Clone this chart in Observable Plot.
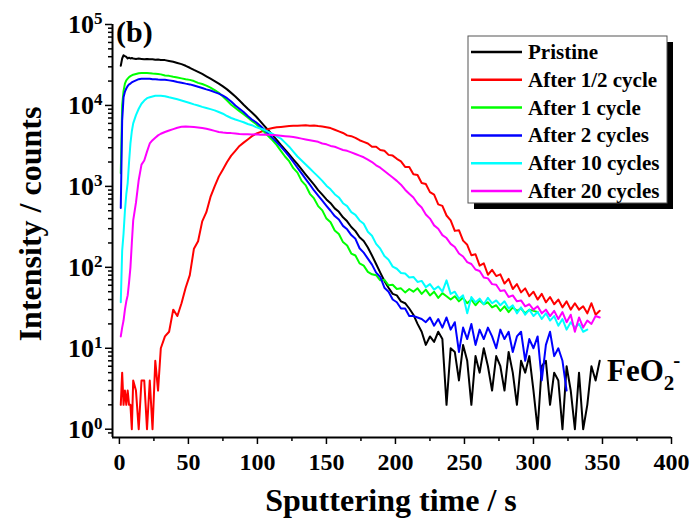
<!DOCTYPE html>
<html><head><meta charset="utf-8">
<script src="https://cdn.jsdelivr.net/npm/d3@7"></script>
<script src="https://cdn.jsdelivr.net/npm/@observablehq/plot@0.6"></script>
<style>
body{margin:0;background:#fff;}
#chart{position:relative;width:694px;height:529px;}
</style></head><body><div id="chart"></div>
<script>
const time = [1,2,3,4,5,6,7,8,9,10,12,14,16,18,20,22,24,26,28,30,33,36,39,42,45,48,51,54,57,60,63,66,69,72,75,78,81,84,87,90,93,96,99,102,105,108,111,114,117,120,123,126,129,132,135,138,141,144,147,150,153,156,159,162,165,168,171,174,177,180,183,186,189,192,195,198,201,204,207,210,213,216,219,222,225,228,231,234,237,240,243,246,249,252,255,258,261,264,267,270,273,276,279,282,285,288,291,294,297,300,303,306,309,312,315,318,321,324,327,330,333,336,339,342,345,348];

const pristine = [30900,38000,41700,40700,39800,38000,38900,38000,38500,38000,
37600,38000,37600,37200,37600,37200,37300,36700,37000,36500,
36300,35500,34700,33500,32400,30900,29200,27500,26000,24500,
22900,21400,20000,18600,17200,15800,14300,12900,11500,10200,
9100,8200,7300,6400,5600,4900,4300,3750,3250,2850,
2480,2150,1880,1620,1400,1210,1050,900,790,690,
620,535,485,415,370,315,280,235,212,176,
140,110,86,68,56,47,45,38,36,31,
26,20,16,11,14,12,16,13,2,10,
9,4,11,7,2,8,5,10,6,3,
8,6,3,9,5,2,7,5,8,3,
1,6,7,2,5,4,1,6,3,1,
5,1,2,6,4,7];

const halfCycle = [2,5,2,3,2,3,2,2,1,4,
3,1,4,4,1,4,1,7,3,10,
14,16,30,25,36,56,80,170,210,370,
480,740,1000,1320,1620,2000,2400,2750,3160,3470,
3800,4170,4470,4680,4900,5130,5250,5370,5430,5500,
5560,5620,5600,5650,5690,5620,5640,5560,5500,5370,
5250,5010,4790,4570,4270,4170,3980,3720,3550,3390,
3090,3090,2820,2750,2450,2400,2190,2040,1740,1740,
1410,1380,1100,1070,850,790,600,575,437,380,
282,288,214,190,141,145,105,112,81,93,
78,82,63,72,54,62,49,55,44,50,
40,47,37,43,35,40,32,38,30,36,
30,33,27,36,26,29];

const oneCycle = [1450,10000,15000,18600,20400,21400,22400,23000,23500,24000,
24500,25000,25100,25100,25100,25000,24800,24700,24500,24200,
23400,23200,22600,22100,21600,21100,20700,20000,19000,18400,
17600,16600,15500,14300,12900,11500,10200,9300,8500,7800,
7100,6450,5900,5250,4700,4170,3700,3240,2750,2340,
2050,1680,1480,1170,1030,810,710,570,505,400,
360,285,258,205,186,148,140,112,105,88,
82,80,69,70,60,61,54,55,49,54,
50,55,47,53,45,50,42,48,44,40,
44,38,42,36,40,34,39,35,37,32,
34,29,33,28,32,29,31,27,30,29,
28];

const twoCycles = [540,6500,12600,14800,16200,17400,18200,18600,19300,19700,
20400,21100,21400,21400,21400,21400,21100,21100,20900,20800,
20700,20400,20000,19500,19100,18600,18200,17600,17000,16400,
15800,15300,14600,14000,13200,12300,11200,10000,9100,8300,
7400,6700,6200,5600,5000,4450,3950,3500,3100,2700,
2350,2000,1700,1450,1230,1050,890,770,665,575,
500,430,390,325,295,250,225,172,152,128,
108,86,76,56,50,40,37,31,31,25,
25,24,23,21,24,19,23,18,24,17,
21,9,18,13,20,11,17,13,18,14,
10,17,13,16,9,14,16,7,13,10,
14,4,11,16,8,10,7,3];

const tenCycles = [37,160,260,500,800,1100,2000,3400,4800,6000,
7600,9100,10500,11500,12300,12600,12900,13200,13200,13200,
13000,12600,12300,11900,11500,11100,10700,10300,10000,9600,
9300,9000,8700,8300,7900,7400,7000,6700,6450,6200,
5900,5700,5400,5200,5000,4700,4450,4150,3900,3470,
3090,2690,2340,2090,1860,1660,1480,1320,1170,1020,
920,800,730,620,570,480,445,380,345,275,
245,195,170,138,124,102,96,85,84,75,
76,66,68,57,62,53,58,50,69,47,
50,41,45,27,43,37,41,35,42,36,
39,34,38,31,34,27,32,26,30,25,
28,23,27,22,25,19,23,17,21,18,
20,16,17];

const twentyCycles = [14,18,22,30,38,45,65,100,200,380,
630,1200,1860,2090,2690,3390,3720,4000,4270,4470,
4700,4900,5100,5300,5450,5500,5450,5400,5350,5250,
5150,5000,4850,4700,4620,4570,4550,4500,4450,4420,
4400,4380,4400,4350,4380,4330,4320,4270,4220,4170,
4120,4070,3980,3890,3800,3720,3630,3550,3390,3310,
3160,3090,2950,2820,2750,2630,2510,2400,2290,2140,
2000,1820,1700,1550,1410,1290,1170,1050,910,810,
730,615,550,450,400,330,300,250,230,195,
178,148,136,116,110,94,90,75,73,62,
61,51,52,43,45,38,39,33,35,30,
33,27,30,25,29,23,28,21,26,16,
24,18,22,20,25,24];

const seriesNames = ["Pristine","After 1/2 cycle","After 1 cycle","After 2 cycles","After 10 cycles","After 20 cycles"];
const seriesColors = ["#000000","#ff0000","#00ff00","#0000ff","#00ffff","#ff00ff"];
const seriesValues = [pristine, halfCycle, oneCycle, twoCycles, tenCycles, twentyCycles];

const xTicks = [0,50,100,150,200,250,300,350,400];
const xMinorTicks = [25,75,125,175,225,275,325,375];
const yTicks = [1,10,100,1000,10000,100000];
const yMinorMultipliers = [2,3,4,5,6,7,8,9];
const yMinorTicks = [0.9].concat(yTicks.slice(0,-1).flatMap(d => yMinorMultipliers.map(k => k*d)));

const xLabel = "Sputtering time / s";
const yLabel = "Intensity / counts";
const panelLabel = "(b)";

const rows = seriesNames.flatMap((name, k) => seriesValues[k].map((v, i) => ({series: name, t: time[i], v})));

const font = "'Liberation Serif','Times New Roman',serif";
const xDomain = [-5, 400];
const yDomain = [0.79, 100000];

const plot = Plot.plot({
  width: 694, height: 529,
  marginLeft: 112, marginRight: 23, marginTop: 24, marginBottom: 92,
  style: {fontFamily: font, fontWeight: "bold", fontSize: "24px", color: "#000", background: "#fff"},
  x: {domain: xDomain},
  y: {type: "log", domain: yDomain},
  color: {domain: seriesNames, range: seriesColors},
  marks: [
    Plot.line(rows, {x: "t", y: "v", z: "series", stroke: "series", strokeWidth: 2, strokeLinejoin: "round"}),
    Plot.axisX(xTicks, {tickSize: 7, tickPadding: 8, strokeWidth: 1.5, tickFormat: d => String(d), label: null}),
    Plot.axisX(xMinorTicks, {tickSize: 4, strokeWidth: 1.5, tickFormat: () => "", label: null}),
    Plot.axisY(yTicks, {tickSize: 7, tickPadding: 3, strokeWidth: 1.5, tickFormat: d => "10^" + Math.round(Math.log10(d)), label: null}),
    Plot.axisY(yMinorTicks, {tickSize: 4, strokeWidth: 1.5, tickFormat: () => "", label: null}),
    Plot.ruleX([xDomain[0]], {strokeWidth: 2}),
    Plot.ruleY([yDomain[0]], {strokeWidth: 2})
  ]
});

const svg = d3.select(plot);
svg.selectAll('g[aria-label="x-axis tick label"]').style("font-size", "24px").attr("font-size", 24);
svg.selectAll('g[aria-label="x-axis tick label"] text').style("font-size", "24px").style("font-weight", "bold");
svg.selectAll('g[aria-label="y-axis tick label"]').style("font-size", "26px").attr("font-size", 26);
svg.selectAll('g[aria-label="y-axis tick label"] text').each(function() {
  const s = this.textContent;
  const t = d3.select(this).style("font-size", "26px").style("font-weight", "bold");
  if (!s.includes("^")) return;
  const [b, e] = s.split("^");
  t.text(b);
  t.append("tspan").attr("dy", "-0.5em").style("font-size", "17px").text(e);
});

const txt = (parent, x, y, s, size, anchor) => parent.append("text").attr("x", x).attr("y", y)
  .attr("font-family", font).attr("font-weight", "bold").attr("font-size", size)
  .attr("text-anchor", anchor || "start").attr("fill", "#000").text(s);

txt(svg, 391, 511, xLabel, 32, "middle");
svg.append("text").attr("transform", "translate(41,224) rotate(-90)")
  .attr("font-family", font).attr("font-weight", "bold").attr("font-size", 32)
  .attr("text-anchor", "middle").attr("fill", "#000").text(yLabel);
txt(svg, 116, 42, panelLabel, 30);

const fe = txt(svg, 607, 381, "FeO", 31);
fe.append("tspan").attr("dy", 9).attr("font-size", 21).text("2");
fe.append("tspan").attr("dy", -23).attr("dx", -1).attr("font-size", 21).text("-");

// legend
const lg = svg.append("g");
lg.append("rect").attr("x", 474).attr("y", 42).attr("width", 199).attr("height", 167).attr("fill", "#000");
lg.append("rect").attr("x", 468).attr("y", 36).attr("width", 199).attr("height", 167).attr("fill", "#fff").attr("stroke", "#555").attr("stroke-width", 1);
seriesNames.forEach((name, k) => {
  const y = 52 + k * 27.8;
  lg.append("line").attr("x1", 471).attr("x2", 522).attr("y1", y).attr("y2", y).attr("stroke", seriesColors[k]).attr("stroke-width", 2.5);
  txt(lg, 528, y + 7, name, 21, "start");
});

document.getElementById("chart").appendChild(plot);
</script>
</body></html>
